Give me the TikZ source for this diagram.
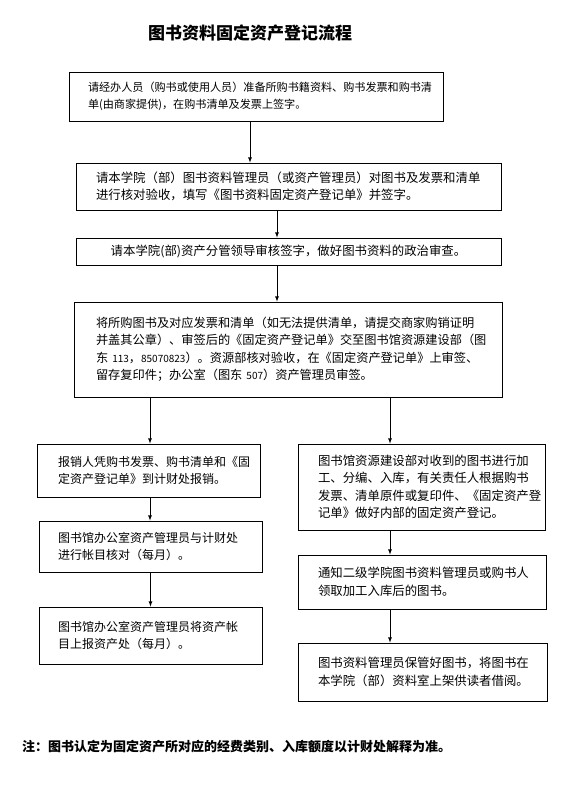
\documentclass[tikz,border=0pt]{standalone}
\usepackage{fontspec}
\setmainfont{Noto Sans CJK SC}
\usetikzlibrary{arrows}

\begin{document}
\begin{tikzpicture}[x=1pt,y=-1pt]

\tikzstyle{line} = [draw, -latex, line width=0.8pt]
\tikzstyle{block} = [draw, rectangle, line width=0.8pt, align=left, inner xsep=20pt, inner ysep=0pt, font=\fontsize{12.4}{17.5}\selectfont]

\useasboundingbox (0,0) rectangle (578,803);

\node [font=\bfseries\fontsize{17}{20}\selectfont] (title) at (250,33) {图书资料固定资产登记流程};

\node [block, text width=336pt, inner xsep=19pt, minimum height=49pt, font=\fontsize{11.1}{17.5}\selectfont] (register) at (256,96.5) {请经办人员（购书或使用人员）准备所购书籍资料、购书发票和购书清\\单(由商家提供)，在购书清单及发票上签字。};
\node [block, text width=385pt, minimum height=47pt] (check) at (288.5,186.5) {请本学院（部）图书资料管理员（或资产管理员）对图书及发票和清单\\进行核对验收，填写《图书资料固定资产登记单》并签字。};
\node [block, text width=385pt, minimum height=27pt, align=center] (approve) at (288.5,251.5) {请本学院(部)资产分管领导审核签字，做好图书资料的政治审查。};
\node [block, text width=384pt, inner xsep=22pt, minimum height=95pt, font=\fontsize{12.2}{17.5}\selectfont] (submit) at (288,349.5) {将所购图书及对应发票和清单（如无法提供清单，请提交商家购销证明\\并盖其公章）、审签后的《固定资产登记单》交至图书馆资源建设部（图\\东~{\fontsize{10}{10}\selectfont 113}，{\fontsize{10}{10}\selectfont 85070823}）。资源部核对验收，在《固定资产登记单》上审签、\\留存复印件；办公室（图东~{\fontsize{10}{10}\selectfont 507}）资产管理员审签。};

\node [block, text width=181pt, inner xsep=21pt, minimum height=53pt, font=\fontsize{12}{17.5}\selectfont] (reimburse) at (148.5,470.5) {报销人凭购书发票、购书清单和《固\\定资产登记单》到计财处报销。};
\node [block, text width=185pt, inner xsep=19pt, minimum height=51pt, font=\fontsize{12}{17.5}\selectfont] (reconcile) at (150.5,546.5) {图书馆办公室资产管理员与计财处\\进行帐目核对（每月）。};
\node [block, text width=185pt, inner xsep=19pt, minimum height=57pt, font=\fontsize{12}{17.5}\selectfont] (report) at (150.5,635.5) {图书馆办公室资产管理员将资产帐\\目上报资产处（每月）。};

\node [block, text width=207pt, minimum height=86pt] (catalog) at (421.5,487) {图书馆资源建设部对收到的图书进行加\\工、分编、入库，有关责任人根据购书\\发票、清单原件或复印件、《固定资产登\\记单》做好内部的固定资产登记。};
\node [block, text width=208pt, minimum height=54pt] (notify) at (422,582) {通知二级学院图书资料管理员或购书人\\领取加工入库后的图书。};
\node [block, text width=209pt, minimum height=58pt] (shelve) at (422.5,672) {图书资料管理员保管好图书，将图书在\\本学院（部）资料室上架供读者借阅。};

\node [anchor=west, inner sep=0pt, font=\bfseries\fontsize{13}{15}\selectfont] (note) at (22,747) {注：图书认定为固定资产所对应的经费类别、入库额度以计财处解释为准。};

%arrows
\path [line] ([xshift=-6pt]register.south) -- ([xshift=-6pt]register.south |- check.north);
\path [line] ([xshift=-11.5pt]check.south) -- ([xshift=-11.5pt]check.south |- approve.north);
\path [line] ([xshift=-11.5pt]approve.south) -- ([xshift=-11.5pt]approve.south |- submit.north);
\path [line] ([xshift=-138pt]submit.south) -- ([xshift=-138pt]submit.south |- reimburse.north);
\path [line] ([xshift=102pt]submit.south) -- ([xshift=102pt]submit.south |- catalog.north);
\path [line] ([xshift=1.5pt]reimburse.south) -- ([xshift=1.5pt]reimburse.south |- reconcile.north);
\path [line] (reconcile.south) -- (reconcile.south |- report.north);
\path [line] ([xshift=-31.5pt]catalog.south) -- ([xshift=-31.5pt]catalog.south |- notify.north);
\path [line] ([xshift=-32pt]notify.south) -- ([xshift=-32pt]notify.south |- shelve.north);
\end{tikzpicture}
\end{document}
